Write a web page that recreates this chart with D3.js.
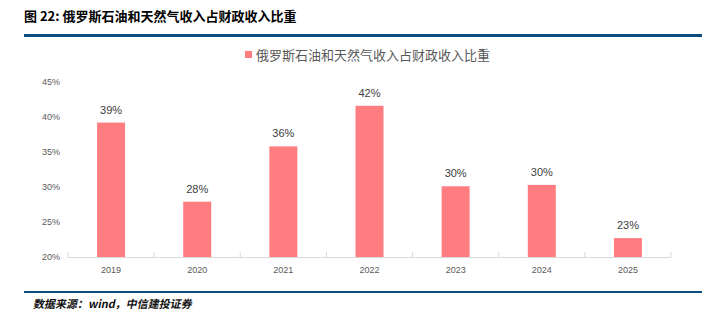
<!DOCTYPE html>
<html><head><meta charset="utf-8">
<script src="https://cdn.jsdelivr.net/npm/d3@7"></script>
<style>body{margin:0;background:#fff;}svg{display:block;}</style>
</head><body>
<svg id="c" width="724" height="328"></svg>
<script>
const categories = ["2019","2020","2021","2022","2023","2024","2025"];
const values = [39.2, 27.9, 35.8, 41.6, 30.1, 30.3, 22.7];
const valueLabels = ["39%","28%","36%","42%","30%","30%","23%"];
const yTicks = [20,25,30,35,40,45];
const seriesName = "俄罗斯石油和天然气收入占财政收入比重";
const title = "图 22:  俄罗斯石油和天然气收入占财政收入比重";
const source = "数据来源：wind，中信建投证券";

const svg = d3.select("#c");
const x = d3.scaleBand().domain(categories).range([68, 671]).paddingInner(0.675).paddingOuter(0.3375);
const y = d3.scaleLinear().domain([20,45]).range([257, 82]);

// title
svg.append("text").attr("x",24).attr("y",21).attr("font-family","'Noto Sans CJK SC', sans-serif")
  .attr("font-weight","bold").attr("font-size",13).attr("fill","#000").text(title);
svg.append("line").attr("x1",24).attr("x2",702).attr("y1",35.5).attr("y2",35.5).attr("stroke","#0b4d7e").attr("stroke-width",3);
svg.append("line").attr("x1",24).attr("x2",702).attr("y1",292).attr("y2",292).attr("stroke","#0b4d7e").attr("stroke-width",2);
svg.append("text").attr("x",33).attr("y",308).attr("font-family","'Noto Sans CJK SC', sans-serif")
  .attr("font-weight",600).attr("font-size",11).attr("fill","#111").style("transform","skewX(-12deg)").style("transform-origin","33px 308px").text(source);

// legend
svg.append("rect").attr("x",245).attr("y",51).attr("width",7).attr("height",7).attr("fill","#ff7c80");
svg.append("text").attr("x",256).attr("y",59.5).attr("font-family","'Noto Sans CJK SC', sans-serif")
  .attr("font-size",13).attr("fill","#595959").text(seriesName);

// y axis labels
const yAxis = d3.axisLeft(y).tickValues(yTicks).tickFormat(d=>d+"%").tickSize(0).tickPadding(8);
const ya = svg.append("g").attr("transform","translate(68,0)").call(yAxis);
ya.select(".domain").remove();
ya.selectAll("text").attr("font-family","'Liberation Sans', Arial, sans-serif").attr("font-size",9).attr("fill","#595959");

// x axis
const xa = svg.append("g").attr("transform","translate(0,257)").call(d3.axisBottom(x).tickSize(0).tickPadding(10));
xa.select(".domain").attr("stroke","#d9d9d9").attr("d","M68,-5V0.5H671V-5");
xa.selectAll("text").attr("font-family","'Liberation Sans', Arial, sans-serif").attr("font-size",9).attr("fill","#595959");
const step = x.step();
xa.selectAll(".sep").data(categories.slice(1)).enter().append("line").attr("class","sep")
  .attr("x1",d=>x(d)-(step-x.bandwidth())/2).attr("x2",d=>x(d)-(step-x.bandwidth())/2)
  .attr("y1",-5).attr("y2",0).attr("stroke","#d9d9d9");

// bars
svg.append("g").selectAll("rect").data(values).enter().append("rect")
  .attr("x",(d,i)=>x(categories[i])).attr("width",x.bandwidth())
  .attr("y",d=>y(d)).attr("height",d=>y(20)-y(d)).attr("fill","#ff7c80");
svg.append("g").selectAll("text").data(values).enter().append("text")
  .attr("x",(d,i)=>x(categories[i])+x.bandwidth()/2).attr("y",d=>y(d)-9)
  .attr("text-anchor","middle").attr("font-family","'Liberation Sans', Arial, sans-serif")
  .attr("font-size",11).attr("fill","#404040").text((d,i)=>valueLabels[i]);
</script>
</body></html>
